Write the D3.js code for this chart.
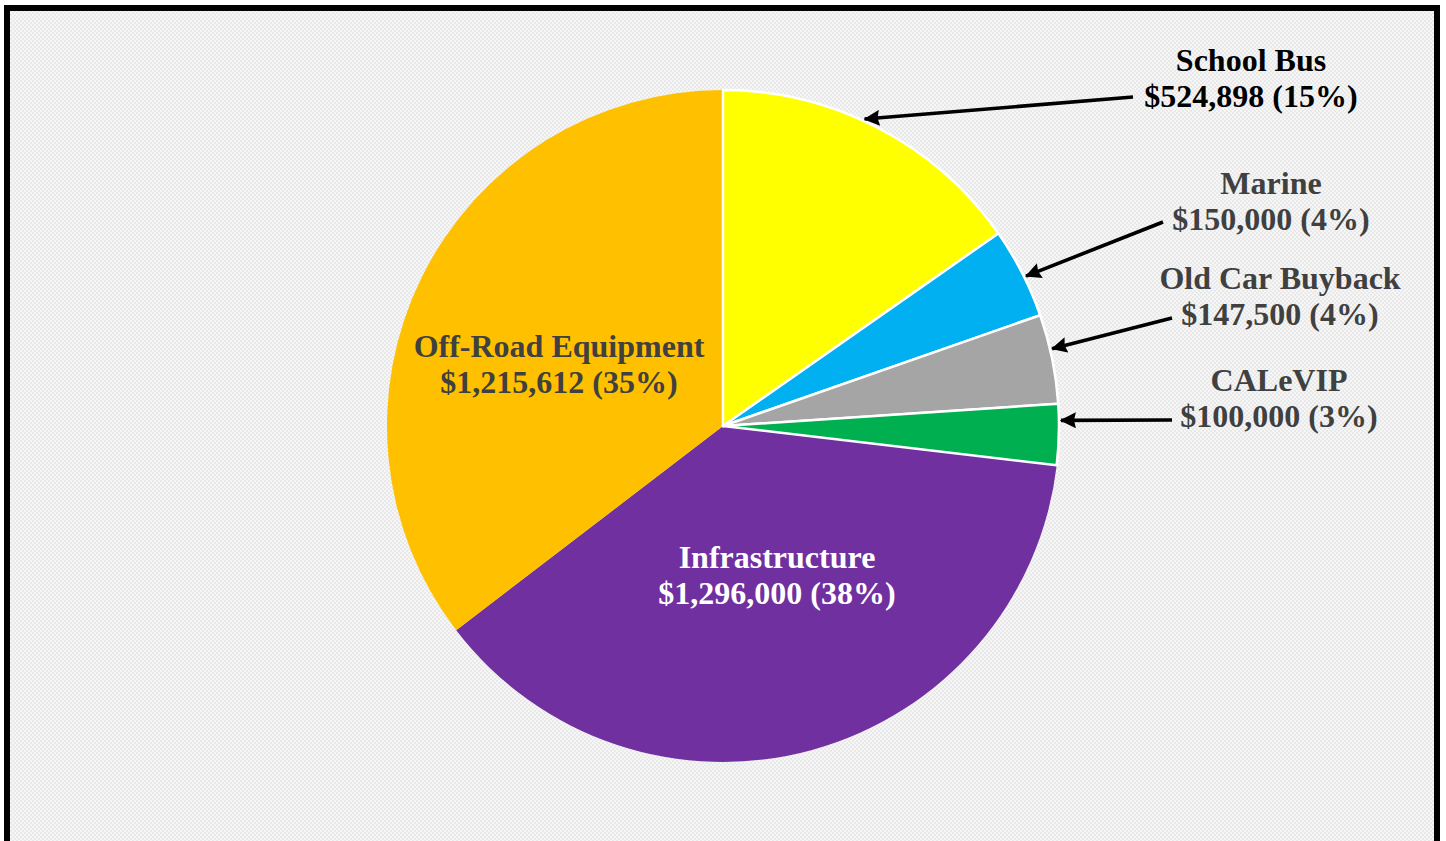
<!DOCTYPE html>
<html>
<head>
	<meta charset="utf-8">
	<title>Funding by Category</title>
	<script src="https://cdn.jsdelivr.net/npm/d3@7"></script>
	<style type="text/css">
		html, body {
			margin: 0;
			padding: 0;
			background: #fff;
		}
		text {
			font-family: "Liberation Serif", "Times New Roman", serif;
			font-weight: bold;
			font-size: 32px;
		}
	</style>
</head>
<body>
	<div id="graph"></div>
	<script type="text/javascript">
		var categories = ["School Bus", "Marine", "Old Car Buyback", "CALeVIP", "Infrastructure", "Off-Road Equipment"];
		var amounts = [524898, 150000, 147500, 100000, 1296000, 1215612];
		var colors = ["#ffff00", "#00b0f0", "#a5a5a5", "#00b050", "#7030a0", "#ffc000"];
		var textColors = ["#000000", "#404040", "#404040", "#404040", "#ffffff", "#404040"];
		// only the small slices get the white outline
		var outlined = [true, true, true, true, false, false];

		// label placement: [x, first baseline, arrow tail x, arrow tail y, where on slice the arrow hits]
		var labelPos = [
			[1251, 71, 1133, 97, 0.45],
			[1271, 194, 1163, 222, 0.55],
			[1280, 289, 1172, 318, 0.39],
			[1279, 391, 1172, 420, 0.27],
			[777, 568, null, null, null],
			[559, 357, null, null, null]
		];

		var W = 1446, H = 841;
		var cx = 723, cy = 426, R = 336;

		var svg = d3.select('#graph').append('svg')
			.attr('width', W).attr('height', H);

		var defs = svg.append('defs');
		var pat = defs.append('pattern')
			.attr('id', 'bg').attr('width', 4).attr('height', 4)
			.attr('patternUnits', 'userSpaceOnUse');
		pat.append('rect').attr('width', 4).attr('height', 4).attr('fill', '#f6f6f6');
		pat.append('rect').attr('width', 2).attr('height', 2).attr('fill', '#e9e9e9');
		pat.append('rect').attr('x', 2).attr('y', 2).attr('width', 2).attr('height', 2).attr('fill', '#e9e9e9');

		defs.append('marker')
			.attr('id', 'arrow')
			.attr('viewBox', '0 0 16 16')
			.attr('refX', 15).attr('refY', 8)
			.attr('markerWidth', 16).attr('markerHeight', 16)
			.attr('markerUnits', 'userSpaceOnUse')
			.attr('orient', 'auto')
			.append('path').attr('d', 'M0,0 L16,8 L0,16 L2,8 z').attr('fill', '#000');

		// frame
		svg.append('rect')
			.attr('x', 7).attr('y', 8)
			.attr('width', 1430).attr('height', 900)
			.attr('fill', 'url(#bg)')
			.attr('stroke', '#000').attr('stroke-width', 6);

		var data = categories.map(function(c, i) {
			return {name: c, value: amounts[i], i: i};
		});
		var total = d3.sum(amounts);
		var money = d3.format('$,');
		var pct = function(v) { return Math.round(v / total * 100) + '%'; };

		var pie = d3.pie().sort(null).value(function(d) { return d.value; });
		var arcs = pie(data);
		var arc = d3.arc().innerRadius(0).outerRadius(R);

		var g = svg.append('g').attr('transform', 'translate(' + cx + ',' + cy + ')');
		// big slices first so the outlines of the small ones sit on top
		var order = arcs.slice().sort(function(a, b) { return outlined[a.data.i] - outlined[b.data.i]; });
		g.selectAll('path.slice')
			.data(order)
			.enter().append('path')
				.attr('class', 'slice')
				.attr('d', arc)
				.attr('fill', function(d) { return colors[d.data.i]; })
				.attr('stroke', function(d) { return outlined[d.data.i] ? '#fff' : 'none'; })
				.attr('stroke-width', 2.5)
				.attr('stroke-linejoin', 'round');

		// arrows for the small slices
		var arrowed = arcs.filter(function(d) { return labelPos[d.data.i][2] != null; });
		function tipAngle(d) {
			return d.startAngle + (d.endAngle - d.startAngle) * labelPos[d.data.i][4];
		}
		svg.selectAll('line.arrow')
			.data(arrowed)
			.enter().append('line')
				.attr('class', 'arrow')
				.attr('x1', function(d) { return labelPos[d.data.i][2]; })
				.attr('y1', function(d) { return labelPos[d.data.i][3]; })
				.attr('x2', function(d) { return cx + (R + 2) * Math.sin(tipAngle(d)); })
				.attr('y2', function(d) { return cy - (R + 2) * Math.cos(tipAngle(d)); })
				.attr('stroke', '#000')
				.attr('stroke-width', 3.6)
				.attr('marker-end', 'url(#arrow)');

		// labels
		var labels = svg.selectAll('text.lbl')
			.data(data)
			.enter().append('text')
				.attr('class', 'lbl')
				.attr('text-anchor', 'middle')
				.attr('fill', function(d) { return textColors[d.i]; });
		labels.append('tspan')
			.attr('x', function(d) { return labelPos[d.i][0]; })
			.attr('y', function(d) { return labelPos[d.i][1]; })
			.text(function(d) { return d.name; });
		labels.append('tspan')
			.attr('x', function(d) { return labelPos[d.i][0]; })
			.attr('y', function(d) { return labelPos[d.i][1] + 36; })
			.text(function(d) { return money(d.value) + ' (' + pct(d.value) + ')'; });
	</script>
</body>
</html>
